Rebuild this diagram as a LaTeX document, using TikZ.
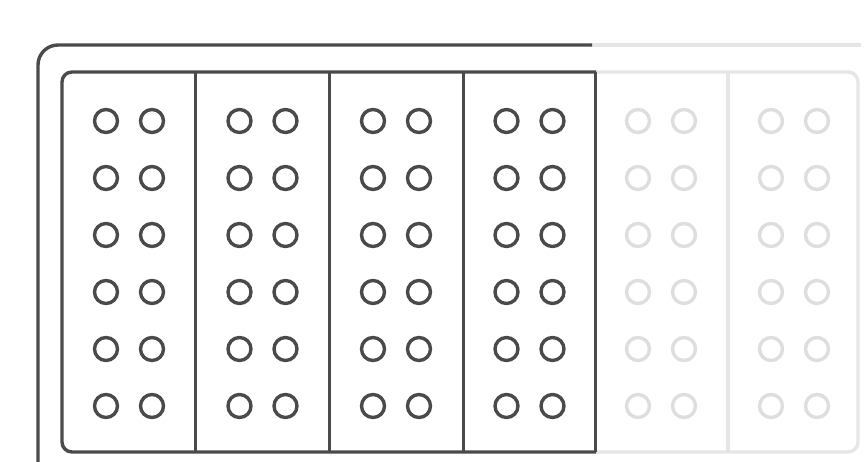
\documentclass[tikz,border=0pt]{standalone}
\definecolor{ink}{HTML}{4A4A4A}
\definecolor{fade}{HTML}{E6E6E6}
\definecolor{fadehole}{HTML}{DEDEDE}
\begin{document}
\begin{tikzpicture}[x=1pt,y=-1pt,line join=round,
  frame/.style={draw=ink,line width=3.4pt},
  divider/.style={draw=ink,line width=3pt},
  fadeline/.style={draw=fade,line width=3.4pt},
  hole/.style={circle,draw=ink,line width=3.4pt,minimum size=23pt,inner sep=0pt},
  fadedhole/.style={circle,draw=fadehole,line width=3.4pt,minimum size=23pt,inner sep=0pt}]
\useasboundingbox (0,0) rectangle (867,462);
\fill[white] (0,0) rectangle (867,462);
% faded (hidden) part
\draw[fadeline] (590,45) -- (861,45);
\draw[fadeline,rounded corners=10] (595,72) -- (858,72) -- (858,452) -- (595,452);
\draw[fadeline] (728,72) -- (728,452);
% visible frames
\draw[frame,rounded corners=20] (38,475) -- (38,45) -- (592,45);
\draw[frame,rounded corners=10] (596,72) -- (62,72) -- (62,452) -- (596,452);
\foreach \xx in {195,329,463,595} \draw[divider] (\xx,72) -- (\xx,452);
% holes
\foreach \c in {0,1,2,3} {
  \foreach \r in {0,...,5} {
    \node[hole] (h\c-\r-a) at ({62+133.5*\c+44},{121+57*\r}) {};
    \node[hole] (h\c-\r-b) at ({62+133.5*\c+90},{121+57*\r}) {};
  }
}
\foreach \c in {4,5} {
  \foreach \r in {0,...,5} {
    \node[fadedhole] (h\c-\r-a) at ({62+133*\c+44},{121+57*\r}) {};
    \node[fadedhole] (h\c-\r-b) at ({62+133*\c+90},{121+57*\r}) {};
  }
}
\end{tikzpicture}
\end{document}
